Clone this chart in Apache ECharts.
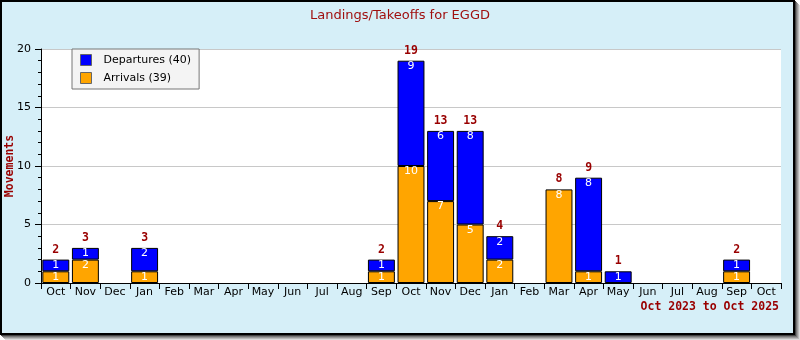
<!DOCTYPE html>
<html>
<head>
<meta charset="utf-8">
<script src="https://cdn.jsdelivr.net/npm/echarts@6/dist/echarts.min.js"></script>
<style>
  html, body { margin: 0; padding: 0; background: #ffffff; }
  #frame {
    position: absolute; left: 0; top: 0; width: 795px; height: 335px;
    box-sizing: border-box; border: 2px solid #000; background: #d6eff8;
    box-shadow: 1px 1px 0 #444, 2px 2px 0 #777, 3px 3px 0 #999, 4px 4px 0 #bbb, 5px 5px 0 #ddd;
  }
  #chart { position: absolute; left: 0; top: 0; width: 800px; height: 340px; }
</style>
</head>
<body>
<div id="frame"></div>
<div id="chart"></div>
<script>
const titleText = 'Landings/Takeoffs for EGGD';
const months = ['Oct','Nov','Dec','Jan','Feb','Mar','Apr','May','Jun','Jul','Aug','Sep',
                'Oct','Nov','Dec','Jan','Feb','Mar','Apr','May','Jun','Jul','Aug','Sep','Oct'];
const departures = [1,1,0,2,0,0,0,0,0,0,0,1, 9,6,8,2,0,0,8,1,0,0,0,1,0];
const arrivals   = [1,2,0,1,0,0,0,0,0,0,0,1, 10,7,5,2,0,8,1,0,0,0,0,1,0];
const yTicks = [0, 5, 10, 15, 20];
const rangeText = 'Oct 2023 to Oct 2025';
const yName = 'Movements';

const sum = a => a.reduce((s, v) => s + v, 0);
const totals = months.map((m, i) => departures[i] + arrivals[i]);
const depName = 'Departures (' + sum(departures) + ')';
const arrName = 'Arrivals (' + sum(arrivals) + ')';
const noZero = a => a.map(v => (v === 0 ? '-' : v));

const darkRed = '#990000';
const monoFont = 'bold 11.5px "DejaVu Sans Mono"';
const innerLabel = {
  show: true, position: 'insideTop', distance: 0, color: '#ffffff',
  fontFamily: 'DejaVu Sans', fontSize: 11,
  formatter: p => (p.value ? String(p.value) : '')
};

const chart = echarts.init(document.getElementById('chart'), null, { renderer: 'canvas' });
chart.setOption({
  backgroundColor: 'transparent',
  animation: false,
  title: {
    text: titleText, left: 'center', top: 4,
    textStyle: { fontFamily: 'DejaVu Sans', fontSize: 13, fontWeight: 'normal', color: '#a01010' }
  },
  legend: {
    data: [depName, arrName], orient: 'vertical', left: 72, top: 49,
    icon: 'rect',
    backgroundColor: '#f4f4f4', borderColor: '#777', borderWidth: 1,
    padding: [5, 8, 5, 8], itemGap: 6, itemWidth: 11, itemHeight: 11,
    itemStyle: { borderColor: '#666', borderWidth: 1 },
    textStyle: { fontFamily: 'DejaVu Sans', fontSize: 11, color: '#000', padding: [0, 0, 0, 7] }
  },
  grid: {
    left: 41, right: 19, top: 49, bottom: 57,
    outerBoundsMode: 'none', containLabel: false,
    show: true, backgroundColor: '#ffffff', borderWidth: 0
  },
  xAxis: {
    type: 'category', data: months,
    axisLine: { lineStyle: { color: '#000', width: 1 } },
    axisTick: { show: true, interval: 0, alignWithLabel: false, length: 6, lineStyle: { color: '#000' } },
    axisLabel: { interval: 0, margin: 4, color: '#000', fontFamily: 'DejaVu Sans', fontSize: 11 },
    splitLine: { show: false }
  },
  yAxis: {
    type: 'value', min: yTicks[0], max: yTicks[yTicks.length - 1], interval: yTicks[1] - yTicks[0],
    axisLine: { show: true, lineStyle: { color: '#000', width: 1 } },
    axisTick: { show: true, length: 6, lineStyle: { color: '#000' } },
    minorTick: { show: true, splitNumber: 5, length: 3, lineStyle: { color: '#000' } },
    axisLabel: { margin: 10, color: '#000', fontFamily: 'DejaVu Sans', fontSize: 11 },
    splitLine: { show: true, lineStyle: { color: '#c8c8c8', width: 1 } }
  },
  series: [
    {
      name: arrName, type: 'bar', stack: 'mv', data: noZero(arrivals), barCategoryGap: '9%',
      itemStyle: { color: '#ffa500', borderColor: '#000', borderWidth: 1 },
      label: innerLabel
    },
    {
      name: depName, type: 'bar', stack: 'mv', data: noZero(departures),
      itemStyle: { color: '#0000ff', borderColor: '#000', borderWidth: 1 },
      label: innerLabel
    },
    {
      name: 'total', type: 'bar', stack: 'mv', data: totals.map(t => (t ? 0 : '-')),
      itemStyle: { color: 'transparent', borderWidth: 0 },
      label: {
        show: true, position: 'top', distance: 4,
        fontFamily: 'DejaVu Sans Mono', fontWeight: 'bold', fontSize: 11.5, color: darkRed,
        formatter: p => (totals[p.dataIndex] ? String(totals[p.dataIndex]) : '')
      }
    }
  ],
  graphic: [
    {
      type: 'text', right: 21, top: 301,
      style: { text: rangeText, fill: darkRed, font: monoFont }
    },
    {
      type: 'text', x: 10, y: 166, rotation: Math.PI / 2,
      style: { text: yName, fill: darkRed, font: monoFont, align: 'center', verticalAlign: 'middle' }
    }
  ]
});
</script>
</body>
</html>
